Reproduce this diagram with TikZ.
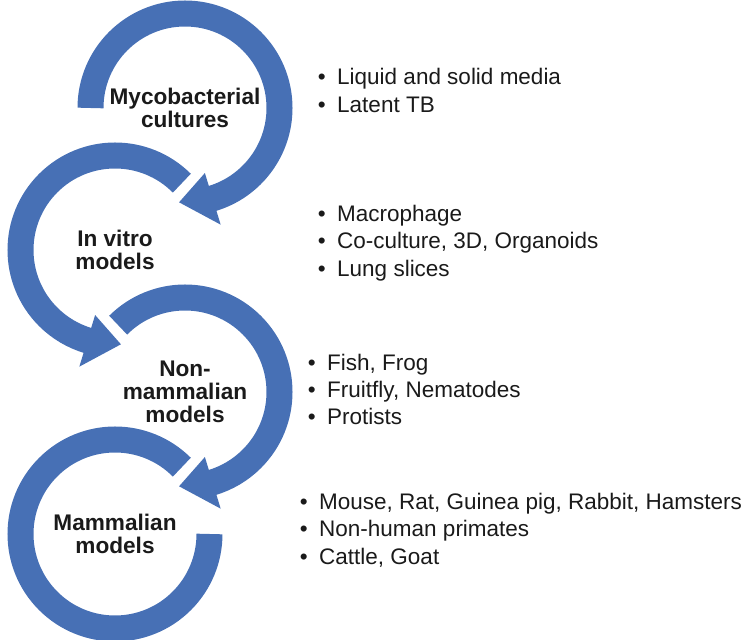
\documentclass[tikz,border=0pt]{standalone}
\usepackage{fontspec}
\setmainfont{Liberation Sans}

\definecolor{ringblue}{RGB}{71,112,181}
\definecolor{ink}{RGB}{26,26,26}
\newcommand{\bul}{\llap{\textbullet\hspace{9.7pt}}}

\begin{document}
\begin{tikzpicture}[x = 0.03cm, y = 0.03cm, font = \fontsize{19.2}{19.4}\selectfont,
	ring/.style = {draw = ringblue, line width = 0.78cm, line cap = butt},
	head/.style = {fill = ringblue},
	stage/.style = {align = center, inner sep = 0pt, text = ink, font = \fontsize{19.3}{19.4}\selectfont\bfseries},
	point/.style = {anchor = base west, inner sep = 0pt, text = ink}]

	\useasboundingbox (0, 0) rectangle (747, 640);

	\coordinate (c1) at (185, 532);
	\coordinate (c2) at (115, 390);
	\coordinate (c3) at (185, 248);
	\coordinate (c4) at (115, 106);

	% the four circular arrows
	\draw [ring] ([shift={(180:94.5)}]c1) arc [start angle = 180, end angle = -73.5, radius = 94.5];
	\fill [head] ([shift={(-73:68)}]c1) -- ([shift={(-93.6:94.5)}]c1) -- ([shift={(-73:122)}]c1) -- cycle;

	\draw [ring] ([shift={(45:94.5)}]c2) arc [start angle = 45, end angle = 253.5, radius = 94.5];
	\fill [head] ([shift={(253:68)}]c2) -- ([shift={(273.6:94.5)}]c2) -- ([shift={(253:122)}]c2) -- cycle;

	\draw [ring] ([shift={(135:94.5)}]c3) arc [start angle = 135, end angle = -73.5, radius = 94.5];
	\fill [head] ([shift={(-73:68)}]c3) -- ([shift={(-93.6:94.5)}]c3) -- ([shift={(-73:122)}]c3) -- cycle;

	\draw [ring] ([shift={(45:94.5)}]c4) arc [start angle = 45, end angle = 360, radius = 94.5];

	% stage names
	\node [stage] (culture) at (c1) {Mycobacterial\\cultures};
	\node [stage] (vitro) at (c2) {In vitro\\models};
	\node [stage] (nonmam) at (c3) {Non-\\mammalian\\models};
	\node [stage] (mammal) at (c4) {Mammalian\\models};

	% examples
	\node [point] (culture-a) at (337, 555) {\bul Liquid and solid media};
	\node [point] (culture-b) at (337, 527.7) {\bul Latent TB};

	\node [point] (vitro-a) at (337, 418.3) {\bul Macrophage};
	\node [point] (vitro-b) at (337, 391) {\bul Co-culture, 3D, Organoids};
	\node [point] (vitro-c) at (337, 363.7) {\bul Lung slices};

	\node [point] (nonmam-a) at (327, 269) {\bul Fish, Frog};
	\node [point] (nonmam-b) at (327, 242.3) {\bul Fruitfly, Nematodes};
	\node [point] (nonmam-c) at (327, 215) {\bul Protists};

	\node [point] (mammal-a) at (319, 130) {\bul Mouse, Rat, Guinea pig, Rabbit, Hamsters};
	\node [point] (mammal-b) at (319, 103) {\bul Non-human primates};
	\node [point] (mammal-c) at (319, 75) {\bul Cattle, Goat};

\end{tikzpicture}
\end{document}
